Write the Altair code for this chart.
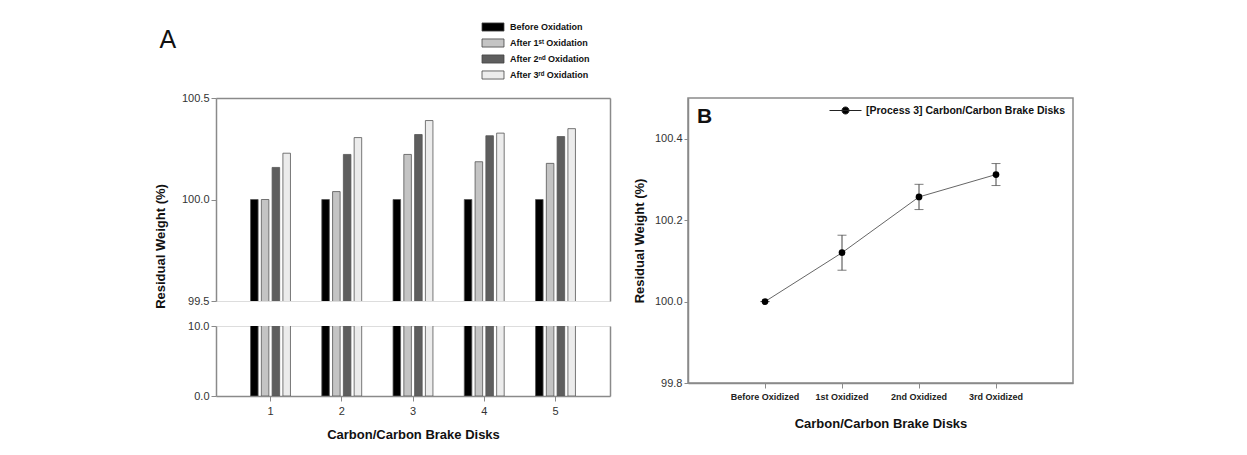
import altair as alt
import pandas as pd

# ---------------- data ----------------
disks = ["1", "2", "3", "4", "5"]
series = ["Before Oxidation", "After 1ˢᵗ Oxidation", "After 2ⁿᵈ Oxidation", "After 3ʳᵈ Oxidation"]
before_ox = [100.0, 100.0, 100.0, 100.0, 100.0]
after_1st = [100.0, 100.039, 100.222, 100.186, 100.178]
after_2nd = [100.158, 100.222, 100.320, 100.314, 100.310]
after_3rd = [100.228, 100.305, 100.389, 100.327, 100.349]
bar_colors = ["#000000", "#c4c4c4", "#5e5e5e", "#ececec"]

stages = ["Before Oxidized", "1st Oxidized", "2nd Oxidized", "3rd Oxidized"]
stage_mean = [100.0, 100.120, 100.257, 100.312]
stage_err = [0.0, 0.043, 0.031, 0.027]
line_label = "[Process 3] Carbon/Carbon Brake Disks"

FONT = "Liberation Sans"
AXIS_GRAY = "#8a8a8a"
LABEL_C = "#333333"

rows = []
for s, vals in zip(series, [before_ox, after_1st, after_2nd, after_3rd]):
    for d, v in zip(disks, vals):
        rows.append({"disk": d, "series": s, "value": v})
dfA = pd.DataFrame(rows)

dfB = pd.DataFrame({
    "stage": stages,
    "mean": stage_mean,
    "lo": [m - e for m, e in zip(stage_mean, stage_err)],
    "hi": [m + e for m, e in zip(stage_mean, stage_err)],
    "label": [line_label] * len(stages),
})

W_A, H_UP, H_LO = 394, 203, 70
W_B, H_B = 385, 285

x_scale = alt.Scale(paddingInner=0.44, paddingOuter=0.485)
xo = alt.XOffset("series:N", sort=series, scale=alt.Scale(paddingInner=0.3))
fill_scale = alt.Scale(domain=series, range=bar_colors)

legendA = alt.Legend(title=None, orient="none", legendX=269, legendY=-79,
                     symbolType="M-1.5,-0.55H1.5V0.55H-1.5Z", symbolSize=215,
                     symbolStrokeColor="#444", symbolStrokeWidth=0.8,
                     labelFont=FONT, labelFontSize=9, labelFontWeight="bold",
                     labelColor="#111", rowPadding=2, labelOffset=9)

def yax(**kw):
    base = dict(format=".1f", tickSize=5, labelFontSize=11, labelColor=LABEL_C,
                domainColor=AXIS_GRAY, tickColor=AXIS_GRAY, domainWidth=1.5, grid=False)
    base.update(kw)
    return alt.Axis(**base)

xaxA = alt.Axis(title="Carbon/Carbon Brake Disks", labelAngle=0, labelFontSize=11,
                labelColor=LABEL_C, labelPadding=4, tickSize=5, titlePadding=12,
                titleFont=FONT, titleFontSize=13, titleFontWeight="bold",
                titleColor="#111", domainColor=AXIS_GRAY, tickColor=AXIS_GRAY,
                domainWidth=1.5)

baseA = alt.Chart(dfA)

# ---- upper segment of A ----
bars_up = baseA.mark_bar(clip=True, stroke="#555", strokeWidth=0.8).encode(
    x=alt.X("disk:N", sort=disks, scale=x_scale, axis=None),
    xOffset=xo,
    y=alt.Y("value:Q", scale=alt.Scale(domain=[99.5, 100.5], zero=False, nice=False),
            axis=yax(values=[99.5, 100.0, 100.5], title="Residual Weight (%)",
                     titleFont=FONT, titleFontSize=13, titleFontWeight="bold",
                     titleColor="#111", titleY=148, titleX=-49)),
    fill=alt.Fill("series:N", sort=series, scale=fill_scale, legend=legendA),
)
frame_up = baseA.mark_bar(opacity=0, clip=True).encode(
    x=alt.X("disk:N", sort=disks, scale=x_scale,
            axis=alt.Axis(orient="top", labels=False, ticks=False, title=None,
                          domainColor=AXIS_GRAY, domainWidth=1.5)),
    y=alt.Y("value:Q", scale=alt.Scale(domain=[99.5, 100.5], zero=False, nice=False),
            axis=alt.Axis(orient="right", labels=False, ticks=False, title=None, grid=False,
                          domainColor=AXIS_GRAY, domainWidth=1.5)),
)
upper = alt.layer(bars_up, frame_up).resolve_axis(x="independent", y="independent").properties(
    width=W_A, height=H_UP,
)

# ---- lower segment of A ----
bars_lo = baseA.mark_bar(clip=True, stroke="#555", strokeWidth=0.8).encode(
    x=alt.X("disk:N", sort=disks, scale=x_scale, axis=xaxA),
    xOffset=xo,
    y=alt.Y("value:Q", scale=alt.Scale(domain=[0, 10], nice=False),
            axis=yax(values=[0, 10], title=None)),
    fill=alt.Fill("series:N", sort=series, scale=fill_scale, legend=legendA),
)
frame_lo = baseA.mark_bar(opacity=0, clip=True).encode(
    x=alt.X("disk:N", sort=disks, scale=x_scale, axis=None),
    y=alt.Y("value:Q", scale=alt.Scale(domain=[0, 10], nice=False),
            axis=alt.Axis(orient="right", labels=False, ticks=False, title=None, grid=False,
                          domainColor=AXIS_GRAY, domainWidth=1.5)),
)
lower = alt.layer(bars_lo, frame_lo).resolve_axis(x="independent", y="independent").properties(
    width=W_A, height=H_LO)

panelA = alt.vconcat(upper, lower, spacing=25, bounds="flush").resolve_scale(
    fill="shared").resolve_legend(fill="shared")

# ---------------- B ----------------
baseB = alt.Chart(dfB)
xB = alt.X("stage:N", sort=stages, scale=alt.Scale(padding=1.0),
           axis=alt.Axis(title="Carbon/Carbon Brake Disks", labelAngle=0, labelFontSize=9,
                         labelFontWeight="bold", labelColor="#222", labelPadding=4, tickSize=5,
                         titlePadding=16, titleFont=FONT, titleFontSize=13,
                         titleFontWeight="bold", titleColor="#111",
                         domainColor=AXIS_GRAY, tickColor=AXIS_GRAY, domainWidth=1.5))
yB_scale = alt.Scale(domain=[99.8, 100.5], zero=False, nice=False)
yB = alt.Y("mean:Q", scale=yB_scale,
           axis=yax(values=[99.8, 100.0, 100.2, 100.4], tickSize=4, title="Residual Weight (%)",
                    titleFont=FONT, titleFontSize=13, titleFontWeight="bold",
                    titleColor="#111", titlePadding=8))

line = baseB.mark_line(color="#666", strokeWidth=1).encode(x=xB, y=yB)
err_rule = baseB.mark_rule(color="#444", strokeWidth=1).encode(
    x=xB, y=alt.Y("lo:Q", scale=yB_scale), y2="hi:Q")
cap_lo = baseB.mark_tick(color="#444", size=9, thickness=1).encode(
    x=xB, y=alt.Y("lo:Q", scale=yB_scale))
cap_hi = baseB.mark_tick(color="#444", size=9, thickness=1).encode(
    x=xB, y=alt.Y("hi:Q", scale=yB_scale))
pts = baseB.mark_point(filled=True, size=45, opacity=1).encode(
    x=xB, y=yB,
    color=alt.Color("label:N", scale=alt.Scale(range=["#000000"]),
                    legend=alt.Legend(title=None, orient="none", legendX=613, legendY=-4,
                                      symbolType="M-1,0H1M-0.22,0A0.22,0.22,0,1,0,0.22,0A0.22,0.22,0,1,0,-0.22,0Z",
                                      symbolSize=1024, symbolStrokeColor="#222",
                                      symbolFillColor="#000", symbolStrokeWidth=1,
                                      labelFont=FONT, labelFontSize=10.5, labelFontWeight="bold",
                                      labelColor="#111", labelOffset=4, labelLimit=400)),
)
panelB = alt.layer(line, err_rule, cap_lo, cap_hi, pts).properties(
    width=W_B, height=H_B,
    view=alt.ViewBackground(stroke=AXIS_GRAY, strokeWidth=1.5),
    title=alt.Title("B", anchor="start", frame="group", dx=9, offset=-46, baseline="alphabetic",
                    fontSize=21, fontWeight="bold", font=FONT, color="#111"),
)

chart = alt.hconcat(panelA, panelB, spacing=21).resolve_scale(
    fill="shared", color="shared"
).resolve_legend(fill="shared", color="shared").properties(
    padding={"left": 145, "top": 11, "right": 5, "bottom": 5},
    title=alt.Title("A", anchor="start", frame="bounds", dx=6, offset=-54, baseline="alphabetic",
                    fontSize=25, fontWeight="normal", font=FONT, color="#111"),
).configure_view(stroke=None).configure(font=FONT)

chart.save("out.html", embed_options={"renderer": "svg", "actions": False})
